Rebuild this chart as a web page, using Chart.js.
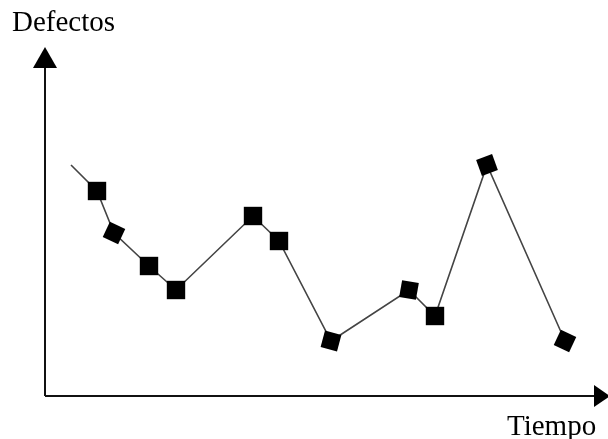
<!DOCTYPE html>
<html>
<head>
<meta charset="utf-8">
<script src="https://cdn.jsdelivr.net/npm/chart.js@4/dist/chart.umd.min.js"></script>
<style>
  html, body { margin: 0; padding: 0; background: #fff; }
  #wrap { position: relative; width: 608px; height: 439px; }
  .lbl { position: absolute; font-family: "Liberation Serif", "DejaVu Serif", serif; font-size: 29px; color: #000; line-height: 1; }
  #yLabel { left: 12px; top: 7px; }
  #xLabel { left: 507px; top: 411px; }
</style>
</head>
<body>
<div id="wrap">
  <canvas id="chart" width="608" height="439"></canvas>
  <div class="lbl" id="yLabel">Defectos</div>
  <div class="lbl" id="xLabel">Tiempo</div>
</div>
<script>
// Time positions and defect counts
const tiempo   = [2.6, 5.2, 6.9, 10.4, 13.1, 20.8, 23.4, 28.6, 36.4, 39.0, 44.2, 52.0];
const defectos = [23.1, 20.5, 16.3, 13.0, 10.6, 18.0, 15.5, 5.5, 10.6, 8.0, 23.1, 5.5];

// marker look (first point has no marker)
const markerSize = [0, 13, 12, 13, 13, 13, 13, 12, 12, 13, 12, 12];
const markerTilt = [0, 0, 25, 0, 0, 0, 0, 15, 10, 0, -20, 25];

// arrows on the axes
const axisArrows = {
  id: 'axisArrows',
  afterDraw(chart) {
    const ctx = chart.ctx;
    const a = chart.chartArea;
    ctx.save();
    ctx.strokeStyle = '#111';
    ctx.fillStyle = '#000';
    ctx.lineWidth = 2;
    ctx.beginPath();
    ctx.moveTo(a.left, a.bottom);
    ctx.lineTo(a.left, a.top + 20);
    ctx.moveTo(a.left, a.bottom);
    ctx.lineTo(a.right - 10, a.bottom);
    ctx.stroke();
    // up arrow
    ctx.beginPath();
    ctx.moveTo(a.left, a.top + 1);
    ctx.lineTo(a.left - 12, a.top + 22);
    ctx.lineTo(a.left + 12, a.top + 22);
    ctx.closePath();
    ctx.fill();
    // right arrow
    ctx.beginPath();
    ctx.moveTo(a.right + 5, a.bottom);
    ctx.lineTo(a.right - 11, a.bottom - 11);
    ctx.lineTo(a.right - 11, a.bottom + 11);
    ctx.closePath();
    ctx.fill();
    ctx.restore();
  }
};

new Chart(document.getElementById('chart'), {
  type: 'line',
  data: {
    datasets: [{
      data: tiempo.map((t, i) => ({ x: t, y: defectos[i] })),
      borderColor: '#444',
      borderWidth: 1.6,
      pointStyle: 'rect',
      pointRadius: markerSize,
      pointRotation: markerTilt,
      pointBackgroundColor: '#000',
      pointBorderColor: '#000',
      pointBorderWidth: 0,
      tension: 0,
      clip: false
    }]
  },
  options: {
    responsive: false,
    animation: false,
    layout: { autoPadding: false, padding: { left: 45, top: 46, right: 3, bottom: 43 } },
    plugins: { legend: { display: false }, tooltip: { enabled: false } },
    scales: {
      x: { type: 'linear', min: 0, max: 56, display: false },
      y: { type: 'linear', min: 0, max: 35, display: false }
    }
  },
  plugins: [axisArrows]
});
</script>
</body>
</html>
